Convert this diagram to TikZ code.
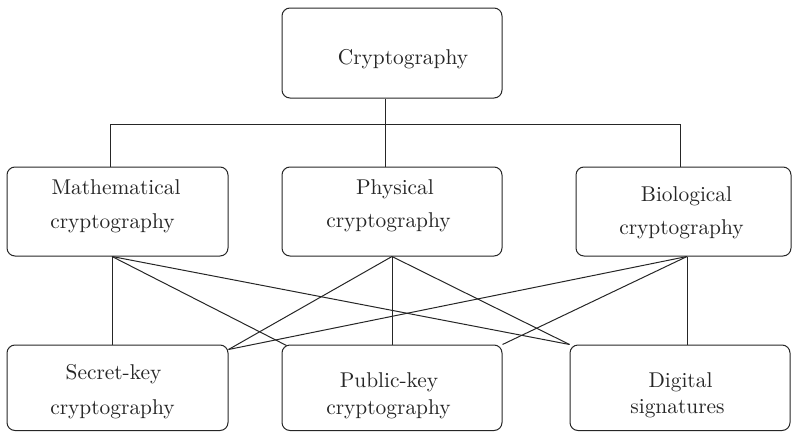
\documentclass[tikz,border=0pt]{standalone}
\usepackage{fontspec}
\setmainfont{lmroman10-regular.otf}
\begin{document}
\begin{tikzpicture}[x=1pt,y=-1pt,line width=1pt,draw=black!85,
  box/.style={draw=black!85,rounded corners=8pt,inner sep=0pt,minimum height=89},
  lbl/.style={font=\fontsize{21.4}{26}\selectfont,anchor=base,inner sep=0pt,text=black!85},
  link/.style={draw=black!85,line width=1pt}]
\useasboundingbox (0,0) rectangle (792,431);
% boxes
\node[box,minimum width=220,minimum height=90] (crypto) at (392,53) {};
\node[box,minimum width=221] (math) at (117.5,211.5) {};
\node[box,minimum width=220] (phys) at (392,211.5) {};
\node[box,minimum width=215] (bio) at (683.5,211.5) {};
\node[box,minimum width=221,minimum height=85.5] (sec) at (117.5,387.75) {};
\node[box,minimum width=220,minimum height=85.5] (pub) at (392,387.75) {};
\node[box,minimum width=220,minimum height=85.5] (dig) at (680,387.75) {};
% texts
\node[lbl] (tc) at (403,64) {Cryptography};
\node[lbl] (tm1) at (116,194) {Mathematical};
\node[lbl] (tm2) at (112.5,228) {cryptography};
\node[lbl] (tp1) at (395,194) {Physical};
\node[lbl] (tp2) at (388.5,227) {cryptography};
\node[lbl] (tb1) at (686.5,201) {Biological};
\node[lbl] (tb2) at (681.5,234) {cryptography};
\node[lbl] (ts1) at (113.5,379) {Secret-key};
\node[lbl] (ts2) at (112.5,414) {cryptography};
\node[lbl] (tu1) at (389,387) {Public-key};
\node[lbl] (tu2) at (388.5,414) {cryptography};
\node[lbl] (td1) at (680.5,387) {Digital};
\node[lbl] (td2) at (677.5,413) {signatures};
% tree connectors
\draw[link] ([xshift=-7pt]crypto.south) -- ([xshift=-7pt]phys.north);
\draw[link] ([xshift=-7.5pt]math.north) -- ++(0,-42) -| ([xshift=-3.5pt]bio.north);
% lower connectors
\coordinate (mb) at ([xshift=-5.5pt]math.south);
\coordinate (bb) at ([xshift=3.5pt]bio.south);
\draw[link] (mb) -- ([xshift=-5.5pt]sec.north);
\draw[link] (phys.south) -- (pub.north);
\draw[link] (bb) -- ([xshift=7pt]dig.north);
\draw[link] (mb) -- ([xshift=5pt,yshift=-1pt]pub.north west);
\draw[link] (mb) -- (dig.north west);
\draw[link] (phys.south) -- ([yshift=-5pt]sec.north east);
\draw[link] (phys.south) -- (dig.north west);
\draw[link] (bb) -- ([yshift=-5pt]sec.north east);
\draw[link] (bb) -- (pub.north east);
\end{tikzpicture}
\end{document}
